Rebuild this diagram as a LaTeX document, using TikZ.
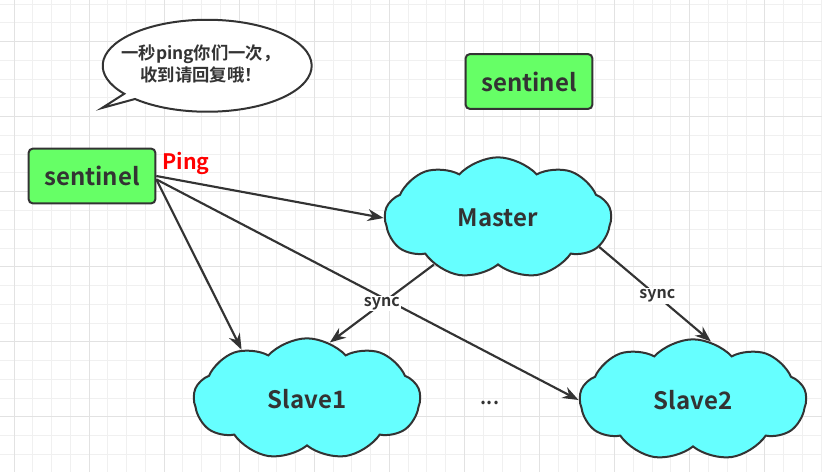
\documentclass[tikz,border=0pt]{standalone}
\usepackage{fontspec}
\setmainfont{Noto Sans CJK SC}[BoldFont={Noto Sans CJK SC Bold}]
\usetikzlibrary{arrows.meta,shapes.symbols}
\definecolor{V}{RGB}{102, 255, 102}
\definecolor{C}{RGB}{102, 255, 255}
\definecolor{N}{RGB}{51, 51, 51}
\definecolor{R}{RGB}{255, 0, 0}
\definecolor{G}{RGB}{240, 240, 240}
\definecolor{GG}{RGB}{226, 226, 226}

\tikzset{
  caja/.style={draw=N, fill=V, line width=1.5pt, rounded corners=3pt,
    minimum width=95pt, minimum height=41pt, text=N,
    font=\bfseries\fontsize{18}{20}\selectfont},
  nube/.style={cloud, cloud puffs=9, cloud puff arc=95, aspect=1.9, draw=N, fill=C,
    line width=1.5pt, minimum width=170pt, minimum height=91pt, text=N,
    font=\bfseries\fontsize{18}{20}\selectfont},
  flecha/.style={draw=N, line width=1.6pt, -{Stealth[length=12pt,width=9pt]}},
  etiq/.style={fill=white, inner sep=1pt, text=N,
    font=\bfseries\fontsize{12}{13}\selectfont}
}

\begin{document}
\begin{tikzpicture}[x=0.75pt,y=-0.75pt]
    %Fondo blanco con cuadricula
    \fill[white] (0,0) rectangle (822,472);
    \useasboundingbox (0,0) rectangle (822,472);
    \foreach \i in {0,...,43}
        \draw[G, line width=0.75pt] ({14+18.77*\i},0) -- ({14+18.77*\i},472);
    \foreach \j in {0,...,24}
        \draw[G, line width=0.75pt] (0,{4+18.77*\j}) -- (822,{4+18.77*\j});
    \foreach \i in {0,4,...,40}
        \draw[GG, line width=0.75pt] ({14+18.77*\i},0) -- ({14+18.77*\i},472);
    \foreach \j in {2,6,...,22}
        \draw[GG, line width=0.75pt] (0,{4+18.77*\j}) -- (822,{4+18.77*\j});

    %Globo de dialogo
    \draw[N, line width=1.5pt, fill=white] (135,99)
        arc[start angle=133.7, end angle=-217.5, x radius=104.5, y radius=46]
        -- (102,108) -- cycle;
    \node[text=N, align=center, font=\bfseries\fontsize{13}{16.5}\selectfont]
        (globo) at (201,64) {一秒ping你们一次，\\收到请回复哦！};

    %Centinelas
    \node[caja] (centR) at (529,81.5) {sentinel};
    \node[caja] (centL) at (92,176) {sentinel};
    \node[text=R, font=\bfseries\fontsize{16}{18}\selectfont] (ping) at (186,163) {Ping};

    %Nubes: maestro y esclavos
    \node[nube] (master) at (498,218) {Master};
    \node[nube] (slaveA) at (307,399) {Slave1};
    \node[nube] (slaveB) at (693,400) {Slave2};
    \node[text=N, font=\bfseries\fontsize{14}{16}\selectfont] (puntos) at (490,403) {...};

    %Flechas del centinela
    \draw[flecha] (centL.east) -- (master.west);
    \draw[flecha] (centL.-3) -- (slaveA.143);
    \draw[flecha] (centL.-3) -- (slaveB.west);

    %Sincronizacion
    \draw[flecha] (master.216) -- node[etiq, pos=0.5] (syncA) {sync} (slaveA.68);
    \draw[flecha] (master.-16) -- node[etiq, pos=0.52] (syncB) {sync} (slaveB.73);
\end{tikzpicture}
\end{document}
